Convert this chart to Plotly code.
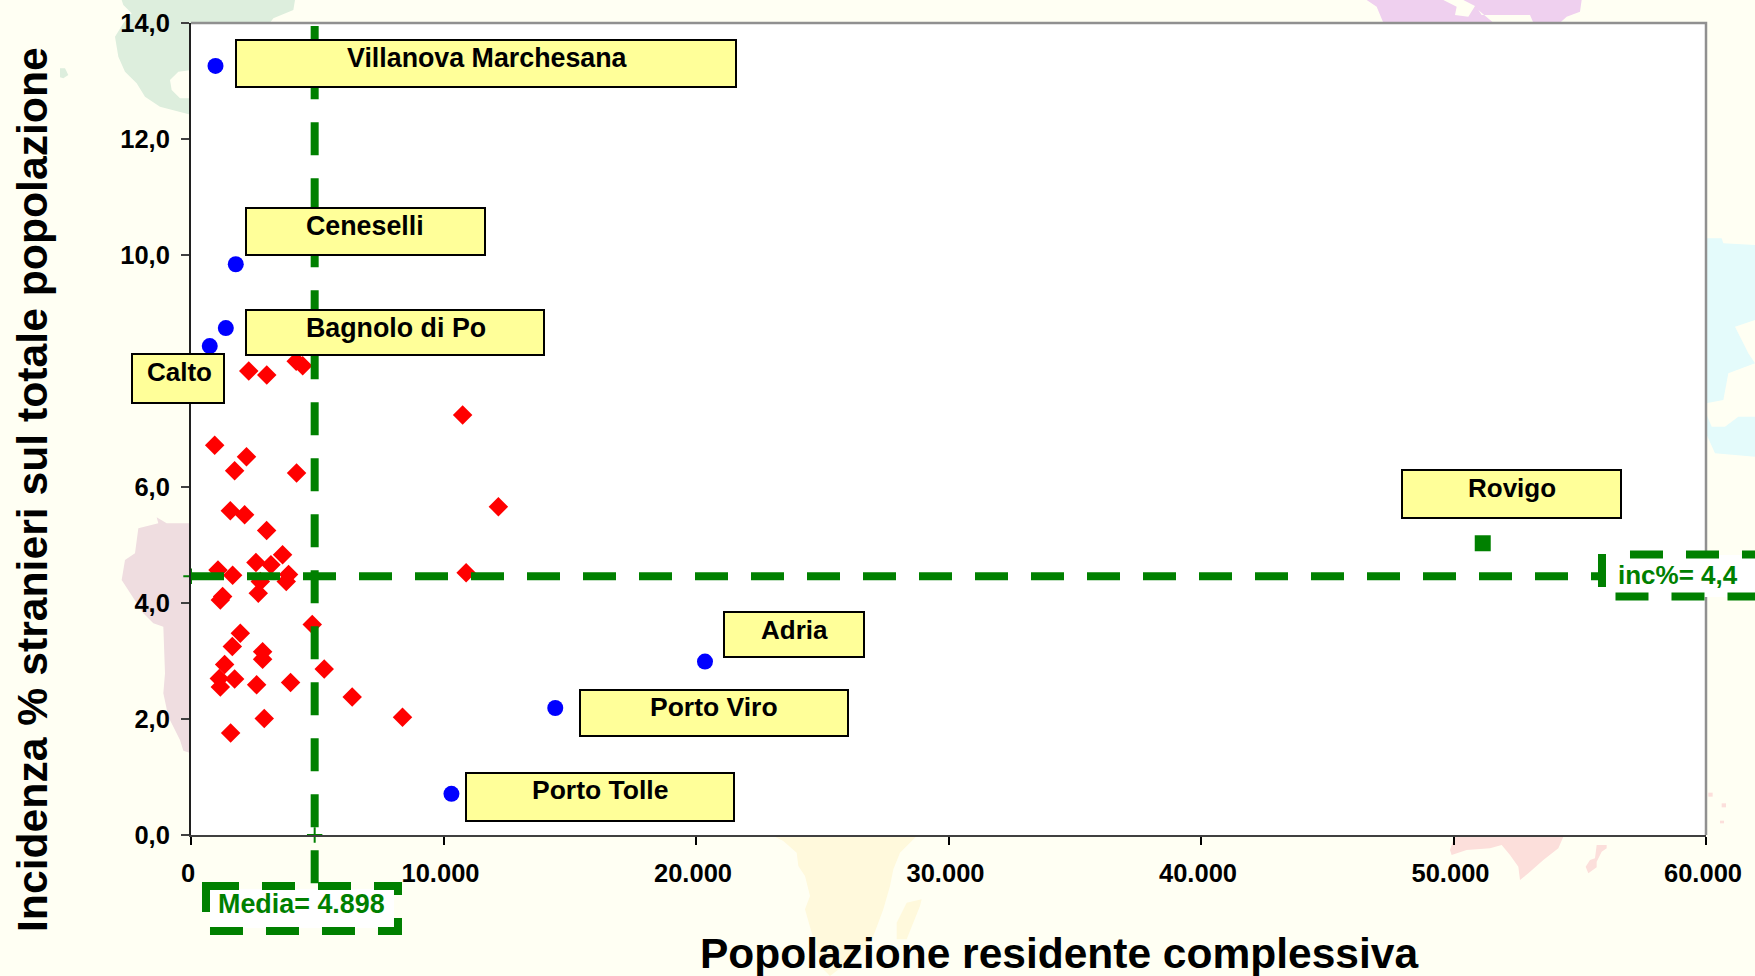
import plotly.graph_objects as go

# ---------- data ----------
RED_X = [2288, 3000, 4166, 4424, 10757, 939, 2197, 1727, 4181, 1557, 2124, 2994, 3627, 2572, 3166,
         1068, 1649, 3865, 3772, 2744, 2664, 1253, 1161, 10895, 4801, 1952, 1636, 2836, 2836, 1332,
         5276, 1121, 1728, 1161, 2598, 3944, 6384, 8376, 2902, 1570, 12174]
RED_Y = [8.00, 7.93, 8.17, 8.09, 7.24, 6.72, 6.52, 6.28, 6.24, 5.59, 5.52, 5.25, 4.83, 4.70, 4.66,
         4.57, 4.48, 4.49, 4.37, 4.37, 4.17, 4.11, 4.05, 4.52, 3.63, 3.48, 3.25, 3.16, 3.03, 2.94,
         2.86, 2.70, 2.69, 2.55, 2.59, 2.63, 2.38, 2.03, 2.01, 1.76, 5.66]
BLUE_X = [970, 1773, 1379, 742, 20356, 14427, 10314]
BLUE_Y = [13.26, 9.84, 8.74, 8.43, 2.99, 2.19, 0.71]
ROVIGO_X = [51158]
ROVIGO_Y = [5.03]
MEAN_X = 4898
MEAN_Y = 4.46
MEAN_LINE_Y_ENDS = [-0.83, 13.95]
MEAN_LINE_X_ENDS = [0, 55780]
X_TICKS = [0, 10000, 20000, 30000, 40000, 50000, 60000]
Y_TICKS = [0, 2, 4, 6, 8, 10, 12, 14]
X_TITLE = "Popolazione residente complessiva"
Y_TITLE = "Incidenza % stranieri sul totale popolazione"
MEDIA_TEXT = "Media= 4.898"
INC_TEXT = "inc%= 4,4"

# ---------- layout constants (pixels on the 1755x976 page) ----------
W, H = 1755, 976
L, R, T, B = 191, 1706, 23, 835
FONT = "Liberation Sans"
GREEN = "#008000"
BG = "#FFFFF3"
DASH = "33px,23px"


def fx(px):
    return (px - L) / (R - L)


def fy(py):
    return 1 - (py - T) / (B - T)


def path(points, close=True):
    s = "M" + " L".join(f"{fx(x):.5f},{fy(y):.5f}" for x, y in points)
    return s + (" Z" if close else "")


def zoomed(ox, oy, sx, sy, pts):
    return [(ox + x / sx, oy + y / sy) for x, y in pts]


# (colour, outline) of the faint world map behind the chart
MAP = [
    ("#DDEEDD", zoomed(60, 0, 3, 3, [(185, 0), (190, 15), (215, 40), (190, 70), (165, 110), (175, 170), (195, 215),
                                     (230, 250), (255, 290), (300, 320), (395, 345), (395, 68), (630, 68), (640, 55),
                                     (700, 30), (705, 0)])),
    ("#DDEEDD", zoomed(60, 0, 3, 3, [(0, 205), (15, 205), (25, 225), (10, 235), (0, 232)])),
    (BG, zoomed(60, 0, 3, 3, [(330, 240), (355, 215), (395, 210), (395, 295), (360, 295), (335, 270)])),
    ("#EFDDE0", zoomed(100, 500, 3, 3, [(170, 52), (175, 70), (115, 85), (105, 160), (75, 180), (65, 240), (130, 340),
                                        (160, 370), (190, 380), (195, 520), (190, 580), (205, 650), (240, 720),
                                        (250, 752), (273, 760), (273, 70), (200, 70)])),
    ("#EFD0EF", zoomed(1340, 0, 3, 3, [(80, 0), (110, 20), (130, 68), (660, 68), (680, 50), (720, 35), (725, 0)])),
    (BG, zoomed(1340, 0, 3, 3, [(310, 0), (350, 20), (345, 45), (385, 50), (405, 18), (370, 0)])),
    (BG, zoomed(1340, 0, 3, 3, [(415, 30), (425, 45), (570, 45), (580, 68), (460, 68)])),
    ("#E4FBFB", zoomed(1695, 220, 3, 3, [(33, 55), (80, 55), (85, 70), (180, 75), (180, 300), (120, 320), (160, 400),
                                         (180, 430), (100, 460), (85, 540), (33, 550)])),
    ("#E4FBFB", zoomed(1695, 220, 3, 3, [(33, 580), (50, 620), (90, 620), (130, 590), (180, 590), (180, 710),
                                         (60, 700), (33, 640)])),
    ("#FFF9DC", zoomed(760, 836, 3, 3, [(40, 0), (70, 15), (110, 50), (115, 90), (135, 120), (150, 180),
                                        (135, 220), (155, 290), (190, 400), (210, 420), (300, 350), (340, 300),
                                        (370, 220), (390, 150), (400, 100), (420, 50), (470, 0)])),
    ("#FFF9DC", zoomed(760, 836, 3, 3, [(410, 260), (440, 200), (485, 190), (480, 210), (440, 310), (410, 310)])),
    ("#FCDFDB", zoomed(1440, 780, 3, 3, [(45, 165), (370, 170), (355, 205), (310, 240), (265, 280), (240, 300),
                                         (235, 260), (210, 225), (185, 195), (150, 205), (80, 210), (35, 225),
                                         (30, 210)])),
    ("#FCDFDB", zoomed(1440, 780, 3, 3, [(470, 195), (500, 195), (500, 205), (485, 215), (470, 245), (470, 262),
                                         (445, 280), (437, 260), (450, 240), (465, 235)])),
    ("#FCDFDB", zoomed(1440, 780, 3, 3, [(805, 38), (818, 38), (818, 50), (805, 50)])),
    ("#FCDFDB", zoomed(1440, 780, 3, 3, [(845, 70), (858, 70), (858, 82), (845, 82)])),
    ("#FCDFDB", zoomed(1440, 780, 3, 3, [(840, 122), (852, 122), (852, 130), (840, 130)])),
]

# name, box (x0, y0, x1, y1), text centre (x, y), font size
LABELS = [
    ("Villanova Marchesana", (236, 40, 736, 87), (487, 58), 26.8),
    ("Ceneselli", (246, 208, 485, 255), (365, 226), 26.8),
    ("Bagnolo di Po", (246, 310, 544, 355), (396, 328), 26.8),
    ("Calto", (132, 354, 224, 403), (179, 372), 26),
    ("Rovigo", (1402, 470, 1621, 518), (1512, 488), 26),
    ("Adria", (724, 612, 864, 657), (794, 630), 26),
    ("Porto Viro", (580, 690, 848, 736), (714, 707), 26.5),
    ("Porto Tolle", (466, 773, 734, 821), (600, 790), 26.5),
]

shapes = []
for colour, pts in MAP:
    shapes.append(dict(type="path", xref="paper", yref="paper", path=path(pts), fillcolor=colour,
                       line_width=0, layer="below"))
shapes.append(dict(type="rect", xref="paper", yref="paper", x0=0, x1=1, y0=0, y1=1, fillcolor="white",
                   line_width=0, layer="below"))
# grey top / right frame
shapes.append(dict(type="path", xref="paper", yref="paper", path=path([(L, T), (R, T), (R, B)], close=False),
                   line=dict(color="#909090", width=2.5), layer="below"))

# the two dashed mean lines, over the markers and under the label boxes
Y_MAX = Y_TICKS[-1]
shapes.append(dict(type="line", xref="x", yref="paper", x0=MEAN_X, x1=MEAN_X,
                   y0=MEAN_LINE_Y_ENDS[0] / Y_MAX, y1=MEAN_LINE_Y_ENDS[1] / Y_MAX,
                   line=dict(color=GREEN, width=8, dash=DASH)))
shapes.append(dict(type="line", xref="x", yref="y", x0=MEAN_LINE_X_ENDS[0], x1=MEAN_LINE_X_ENDS[1],
                   y0=MEAN_Y, y1=MEAN_Y, line=dict(color=GREEN, width=8, dash=DASH)))

# the dashed boxes with the mean values
shapes.append(dict(type="rect", xref="paper", yref="paper", x0=fx(210), x1=fx(394), y0=fy(928), y1=fy(889),
                   fillcolor="white", line_width=0))
shapes.append(dict(type="path", xref="paper", yref="paper",
                   path=path([(206, 886), (398, 886), (398, 931), (206, 931)]),
                   line=dict(color=GREEN, width=8, dash=DASH)))
shapes.append(dict(type="rect", xref="paper", yref="paper", x0=fx(1606), x1=fx(W), y0=fy(597), y1=fy(555),
                   fillcolor="white", line_width=0))
shapes.append(dict(type="path", xref="paper", yref="paper",
                   path=path([(1602, 554), (1602, 596.5), (W + 30, 596.5)], close=False),
                   line=dict(color=GREEN, width=8, dash=DASH)))
shapes.append(dict(type="path", xref="paper", yref="paper",
                   path=path([(1630, 554.5), (W + 30, 554.5)], close=False),
                   line=dict(color=GREEN, width=8, dash=DASH)))
for _, (x0, y0, x1, y1), _c, _s in LABELS:
    shapes.append(dict(type="rect", xref="paper", yref="paper", x0=fx(x0), x1=fx(x1), y0=fy(y1), y1=fy(y0),
                       fillcolor="#FFFF99", line=dict(color="#000000", width=2)))


def note(text, cx, cy, size, color="#000000", angle=0):
    return dict(text=text, xref="paper", yref="paper", x=fx(cx), y=fy(cy), xanchor="center", yanchor="middle",
                showarrow=False, textangle=angle, align="center",
                font=dict(family=FONT, size=size, color=color, weight=700))


annotations = [note(name, c[0], c[1], s) for name, _b, c, s in LABELS]
annotations += [
    note(MEDIA_TEXT, 301, 904, 26.9, GREEN),
    note(INC_TEXT, 1678, 575, 26, GREEN),
    note(X_TITLE, 1059, 953, 42.5),
    note(Y_TITLE, 32, 490, 42.7, angle=-90),
]

fig = go.Figure()
fig.add_trace(go.Scatter(x=RED_X, y=RED_Y, mode="markers", marker=dict(symbol="diamond", size=15, color="#FF0000"),
                         showlegend=False))
fig.add_trace(go.Scatter(x=BLUE_X, y=BLUE_Y, mode="markers", marker=dict(symbol="circle", size=16, color="#0000FF"),
                         showlegend=False))
fig.add_trace(go.Scatter(x=ROVIGO_X, y=ROVIGO_Y, mode="markers", marker=dict(symbol="square", size=16, color=GREEN),
                         showlegend=False))
fig.add_trace(go.Scatter(x=[MEAN_X, 0], y=[0, MEAN_Y], mode="markers", cliponaxis=False,
                         marker=dict(symbol="cross-thin", size=11, line=dict(color=GREEN, width=2)),
                         showlegend=False))

tickfont = dict(family=FONT, size=25.5, color="#000000", weight=700)
fig.update_layout(
    width=W, height=H, autosize=False,
    margin=dict(l=L, r=W - R, t=T, b=H - B, pad=0, autoexpand=False),
    paper_bgcolor=BG, plot_bgcolor="white",
    separators=",.",
    showlegend=False,
    shapes=shapes,
    annotations=annotations,
    xaxis=dict(range=[0, 60000], tickvals=X_TICKS, tickformat=",d", ticks="outside", ticklen=8, tickwidth=1.5,
               tickcolor="#000000", showline=True, linecolor="#404040", linewidth=2, showgrid=False, zeroline=False,
               tickfont=tickfont, ticklabelstandoff=6, ticklabelshift=-3),
    yaxis=dict(range=[0, Y_MAX], tickvals=Y_TICKS, tickformat=".1f", ticks="outside", ticklen=8, tickwidth=1.5,
               tickcolor="#404040", showline=True, linecolor="#202020", linewidth=2, showgrid=False, zeroline=False,
               tickfont=tickfont, ticklabelstandoff=6),
)
fig.write_html("out.html", config={"displayModeBar": False},
               post_script="document.body.style.margin='0';document.body.style.background='#FFFFF3';document.documentElement.style.overflow='hidden';")
